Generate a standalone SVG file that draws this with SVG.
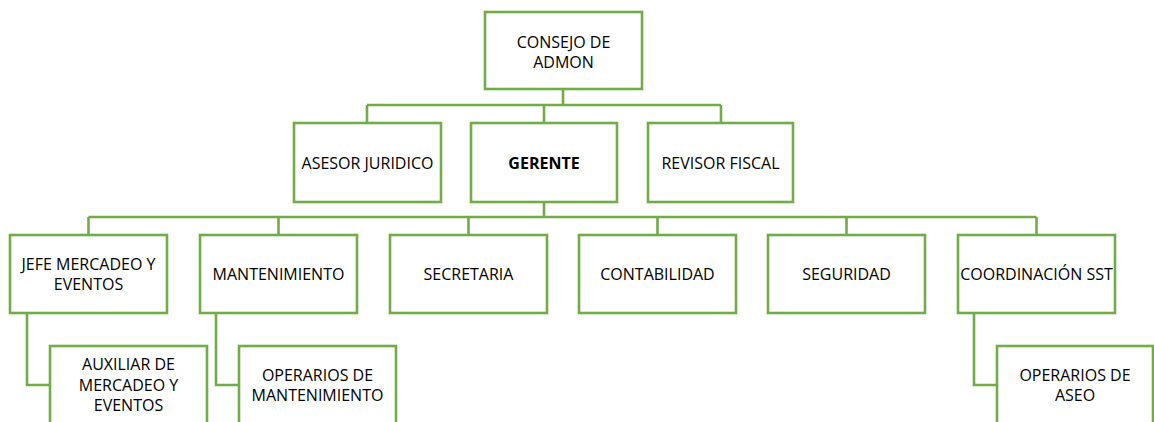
<svg xmlns="http://www.w3.org/2000/svg" width="1154" height="422" viewBox="0 0 1154 422">
<style>
.box{fill:#fff;stroke:#70AD47;stroke-width:2.6}
.con{fill:none;stroke:#70AD47;stroke-width:2.6}
text{font-family:"Open Sans","Liberation Sans",sans-serif;font-size:16px;fill:#000;text-anchor:middle}
.b{font-weight:bold}
</style>
<rect width="1154" height="422" fill="#fff"/>
<g id="connectors">
<path class="con" d="M563 89V105M367 105H721M367 105V123M544 105V123M721 105V123"/>
<path class="con" d="M544 202V217M88.5 217H1036.5M88.5 217V235M278.5 217V235M468.5 217V235M657.5 217V235M846.5 217V235M1036.5 217V235"/>
<path class="con" d="M27 313V385H50M216 313V385H239M974 313V385H997"/>
</g>
<g id="consejo"><rect class="box" x="485" y="12" width="157" height="77"/><text x="563.5" y="47.5">CONSEJO DE</text><text x="563.5" y="67.5">ADMON</text></g>
<g id="asesor"><rect class="box" x="294" y="123" width="147" height="79"/><text x="367.5" y="168.5">ASESOR JURIDICO</text></g>
<g id="gerente"><rect class="box" x="471" y="123" width="146" height="79"/><text class="b" x="544" y="168.5">GERENTE</text></g>
<g id="revisor"><rect class="box" x="648" y="123" width="145" height="79"/><text x="720.5" y="168.5">REVISOR FISCAL</text></g>
<g id="jefe"><rect class="box" x="10" y="235" width="157" height="78"/><text x="88.5" y="270">JEFE MERCADEO Y</text><text x="88.5" y="290">EVENTOS</text></g>
<g id="mantenimiento"><rect class="box" x="200" y="235" width="157" height="78"/><text x="278.5" y="280">MANTENIMIENTO</text></g>
<g id="secretaria"><rect class="box" x="390" y="235" width="157" height="78"/><text x="468.5" y="280">SECRETARIA</text></g>
<g id="contabilidad"><rect class="box" x="579" y="235" width="157" height="78"/><text x="657.5" y="280">CONTABILIDAD</text></g>
<g id="seguridad"><rect class="box" x="768" y="235" width="157" height="78"/><text x="846.5" y="280">SEGURIDAD</text></g>
<g id="coordinacion"><rect class="box" x="958" y="235" width="157" height="78"/><text x="1036.5" y="280">COORDINACIÓN SST</text></g>
<g id="auxiliar"><rect class="box" x="50" y="346" width="157" height="78"/><text x="128.5" y="370">AUXILIAR DE</text><text x="128.5" y="390.5">MERCADEO Y</text><text x="128.5" y="410.5">EVENTOS</text></g>
<g id="operarios-mant"><rect class="box" x="239" y="346" width="157" height="78"/><text x="317.5" y="381">OPERARIOS DE</text><text x="317.5" y="401">MANTENIMIENTO</text></g>
<g id="operarios-aseo"><rect class="box" x="997" y="346" width="156" height="78"/><text x="1075" y="381">OPERARIOS DE</text><text x="1075" y="401">ASEO</text></g>
</svg>
